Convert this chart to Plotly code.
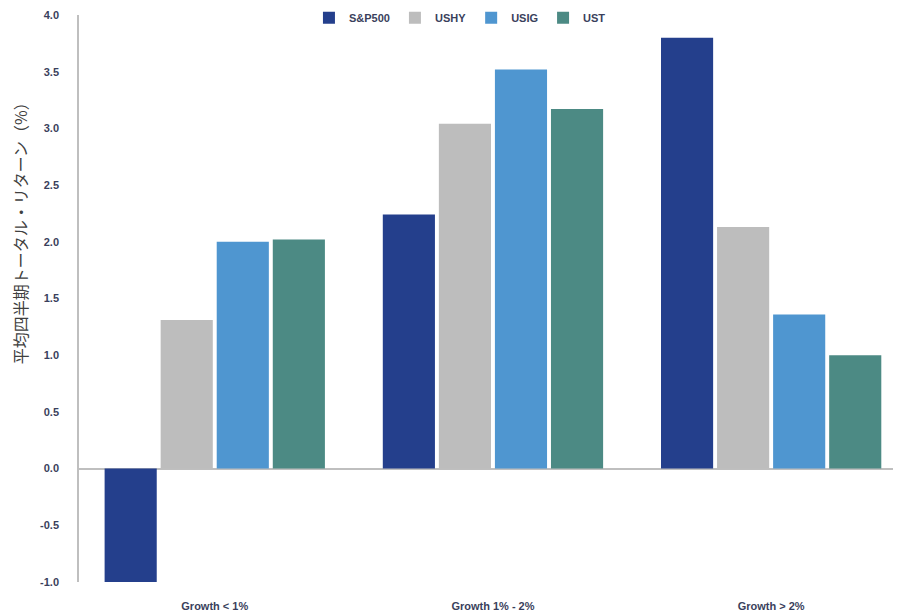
import plotly.graph_objects as go

# Categories and series values (average quarterly total return, %)
categories = ["Growth < 1%", "Growth 1% - 2%", "Growth > 2%"]
series_names = ["S&P500", "USHY", "USIG", "UST"]
sp500 = [-1.00, 2.24, 3.80]
ushy = [1.31, 3.04, 2.13]
usig = [2.00, 3.52, 1.36]
ust = [2.02, 3.17, 1.00]
y_ticks = [-1.0, -0.5, 0.0, 0.5, 1.0, 1.5, 2.0, 2.5, 3.0, 3.5, 4.0]

colors = ["#243F8C", "#BDBDBD", "#4F96D0", "#4C8A84"]
values = [sp500, ushy, usig, ust]

fig = go.Figure()
for name, vals, col in zip(series_names, values, colors):
    fig.add_trace(go.Bar(
        x=list(range(len(categories))), y=vals, name=f"<b>{name}</b>",
        marker=dict(color=col, line=dict(width=0)),
    ))

tick_font = dict(family="Liberation Sans, Arial, sans-serif", size=11, color="#3A3F5C")

fig.update_layout(
    width=898, height=616,
    margin=dict(l=79, r=5, t=15, b=34, autoexpand=False),
    paper_bgcolor="white", plot_bgcolor="white",
    barmode="group", bargap=0.194, bargroupgap=0.07,
    showlegend=True,
    legend=dict(
        orientation="h", x=0.468, xanchor="center", y=0.995, yanchor="middle",
        font=dict(family="Liberation Sans, Arial, sans-serif", size=11, color="#3A3F5C"),
        itemwidth=30, traceorder="normal", bgcolor="rgba(0,0,0,0)",
    ),
    xaxis=dict(
        range=[-0.488, 2.438],
        tickmode="array", tickvals=list(range(len(categories))),
        ticktext=[f"<b>{c}</b>" for c in categories],
        showgrid=False, showline=False, ticks="", zeroline=False,
        tickfont=tick_font, ticklabelstandoff=16,
    ),
    yaxis=dict(
        range=[-1.0, 4.0],
        tickmode="array", tickvals=y_ticks,
        ticktext=[f"<b>{v:.1f}</b>" for v in y_ticks],
        showgrid=False, showline=True, linecolor="#BFBFBF", linewidth=1.5,
        zeroline=True, zerolinecolor="#BFBFBF", zerolinewidth=1.5,
        ticks="", tickfont=tick_font, ticklabelstandoff=16,
    ),
    annotations=[dict(
        text="平均四半期トータル・リターン（%）",
        xref="paper", yref="paper", x=-0.0725, y=0.622,
        xanchor="center", yanchor="middle", textangle=-90, showarrow=False,
        font=dict(family="Noto Sans CJK JP", size=16, color="#404040"),
    )],
)

fig.write_html("out.html")
